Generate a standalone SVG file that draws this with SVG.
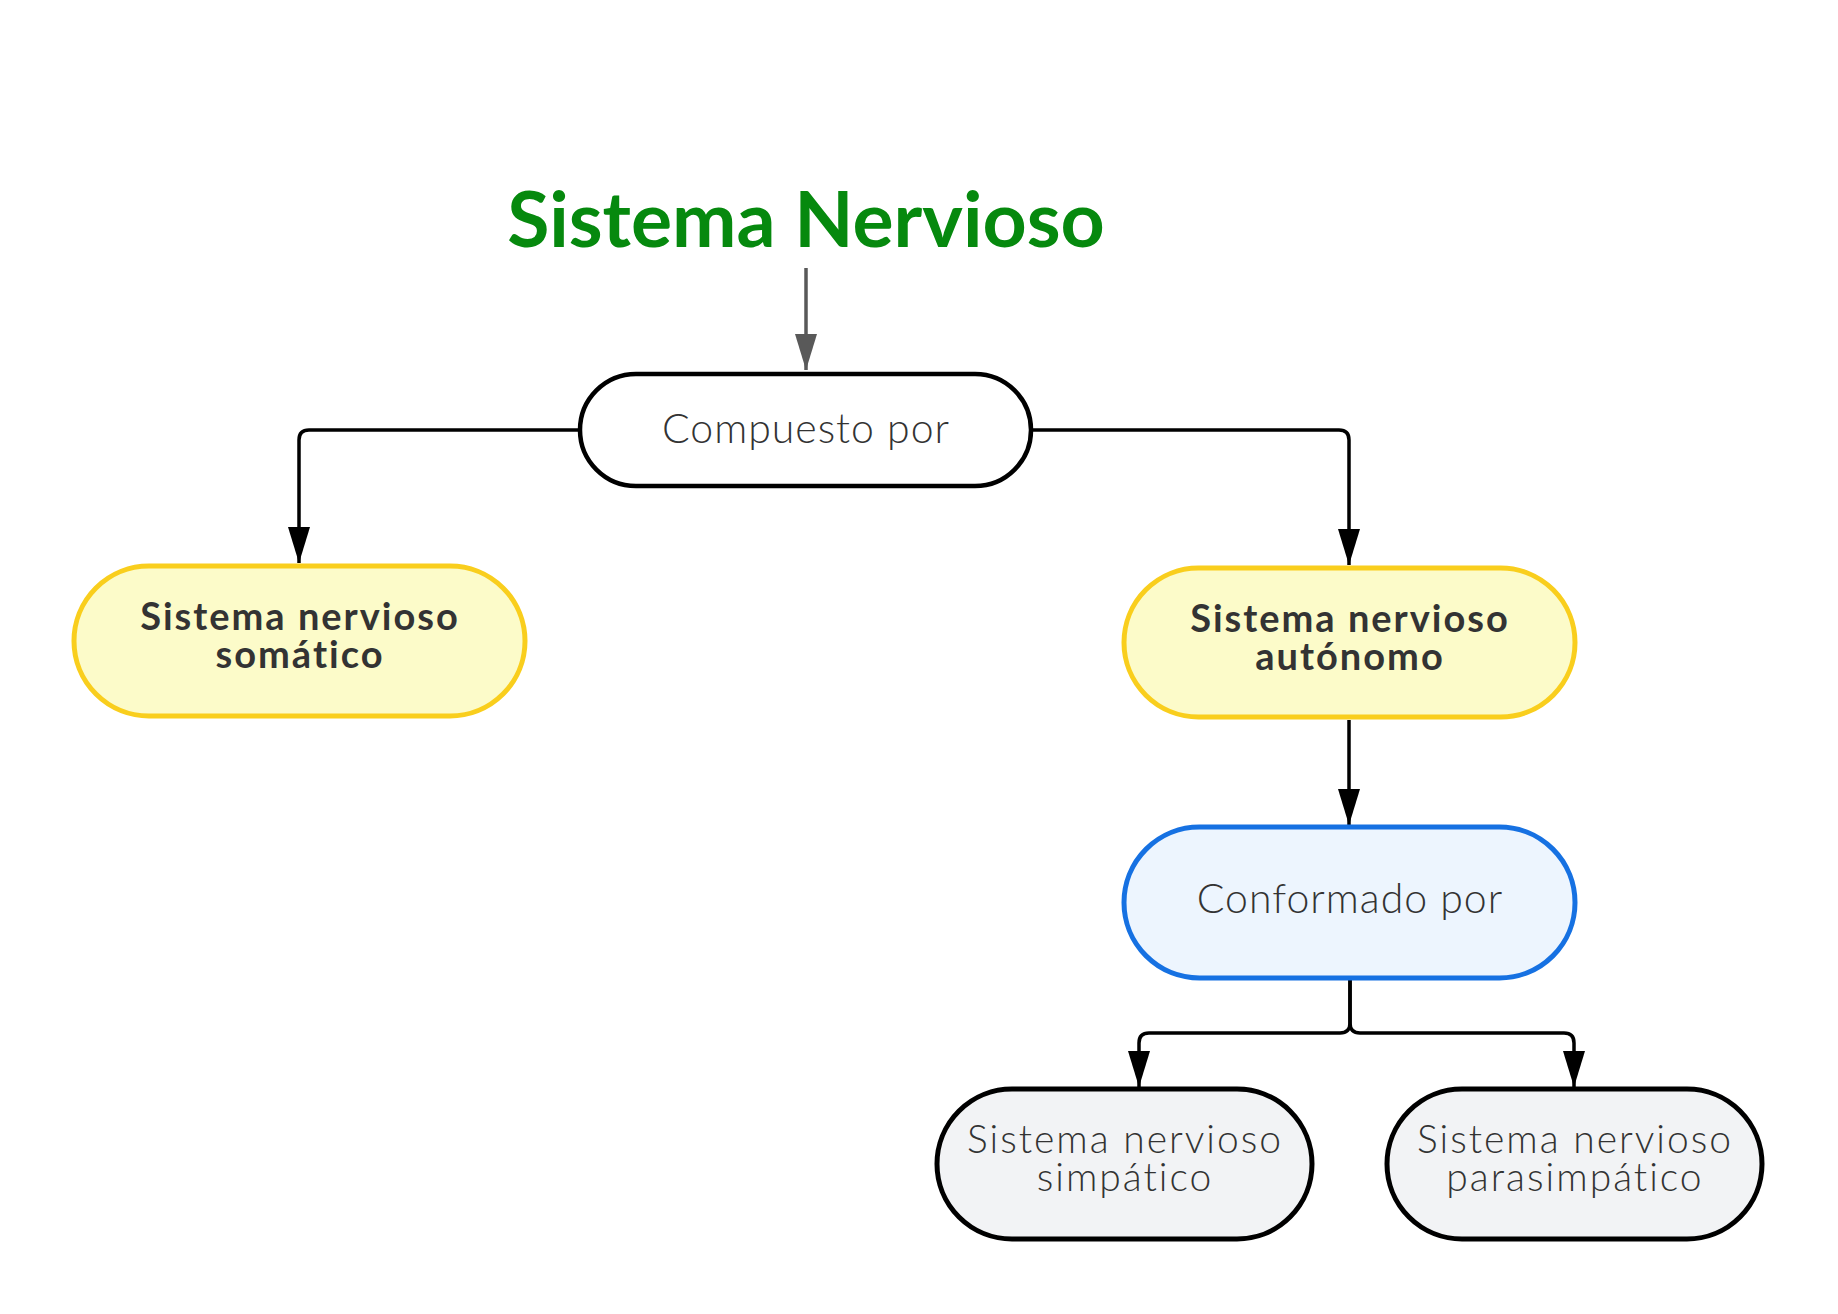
<svg xmlns="http://www.w3.org/2000/svg" width="1838" height="1314" viewBox="0 0 1838 1314">
<defs>
<style>
.title{font-family:Lato,"Noto Sans",sans-serif;font-weight:700;font-size:77px;fill:#06890e;text-anchor:middle}
.bold{font-family:Lato,"Noto Sans",sans-serif;font-weight:700;font-size:38px;letter-spacing:2px;fill:#333333;text-anchor:middle}
.light{font-family:Lato,"Noto Sans",sans-serif;font-weight:300;font-size:41px;letter-spacing:1px;fill:#333333;text-anchor:middle}
.light2{font-family:Lato,"Noto Sans",sans-serif;font-weight:300;font-size:39px;letter-spacing:2px;fill:#333333;text-anchor:middle}
.edge{fill:none;stroke:#000;stroke-width:3.5}
.yellow{fill:#fcfbc9;stroke:#f9ce1d;stroke-width:5}
.blue{fill:#edf5fe;stroke:#1671e2;stroke-width:5}
.gray{fill:#f2f3f5;stroke:#000;stroke-width:5}
.white{fill:#fff;stroke:#000;stroke-width:4.5}
</style>
<marker id="ahg" viewBox="0 0 36 22" refX="36" refY="11" markerWidth="36" markerHeight="22" markerUnits="userSpaceOnUse" orient="auto">
<path d="M0,0 L36,11 L0,22 Z" fill="#595959"/>
</marker>
<marker id="ahb" viewBox="0 0 36 22" refX="36" refY="11" markerWidth="36" markerHeight="22" markerUnits="userSpaceOnUse" orient="auto">
<path d="M0,0 L36,11 L0,22 Z" fill="#000"/>
</marker>
</defs>
<rect width="1838" height="1314" fill="#fff"/>
<g id="connectors">
<path d="M806,268 V370" fill="none" stroke="#595959" stroke-width="3.5" marker-end="url(#ahg)"/>
<path class="edge" d="M580,430 H309 Q299,430 299,440 V563" marker-end="url(#ahb)"/>
<path class="edge" d="M1031,430 H1339 Q1349,430 1349,440 V565" marker-end="url(#ahb)"/>
<path class="edge" d="M1349,720 V825" marker-end="url(#ahb)"/>
<path class="edge" d="M1350,978 V1023 Q1350,1033 1340,1033 H1149 Q1139,1033 1139,1043 V1087" marker-end="url(#ahb)"/>
<path class="edge" d="M1350,978 V1023 Q1350,1033 1360,1033 H1564 Q1574,1033 1574,1043 V1087" marker-end="url(#ahb)"/>
</g>
<g id="title">
<text class="title" x="806" y="247">Sistema Nervioso</text>
</g>
<g id="compuesto">
<rect class="white" x="580" y="374" width="451" height="112" rx="56"/>
<text class="light" x="806" y="443">Compuesto por</text>
</g>
<g id="somatico">
<rect class="yellow" x="74" y="566" width="451" height="150" rx="75"/>
<text class="bold" x="300" y="630">Sistema nervioso</text>
<text class="bold" x="300" y="668">somático</text>
</g>
<g id="autonomo">
<rect class="yellow" x="1124" y="568" width="451" height="149" rx="74.5"/>
<text class="bold" x="1350" y="632">Sistema nervioso</text>
<text class="bold" x="1350" y="670">autónomo</text>
</g>
<g id="conformado">
<rect class="blue" x="1124" y="827" width="451" height="151" rx="75.5"/>
<text class="light" x="1350" y="913">Conformado por</text>
</g>
<g id="simpatico">
<rect class="gray" x="937" y="1089" width="375" height="150" rx="75"/>
<text class="light2" x="1125" y="1153">Sistema nervioso</text>
<text class="light2" x="1125" y="1191">simpático</text>
</g>
<g id="parasimpatico">
<rect class="gray" x="1387" y="1089" width="375" height="150" rx="75"/>
<text class="light2" x="1575" y="1153">Sistema nervioso</text>
<text class="light2" x="1575" y="1191">parasimpático</text>
</g>
</svg>
